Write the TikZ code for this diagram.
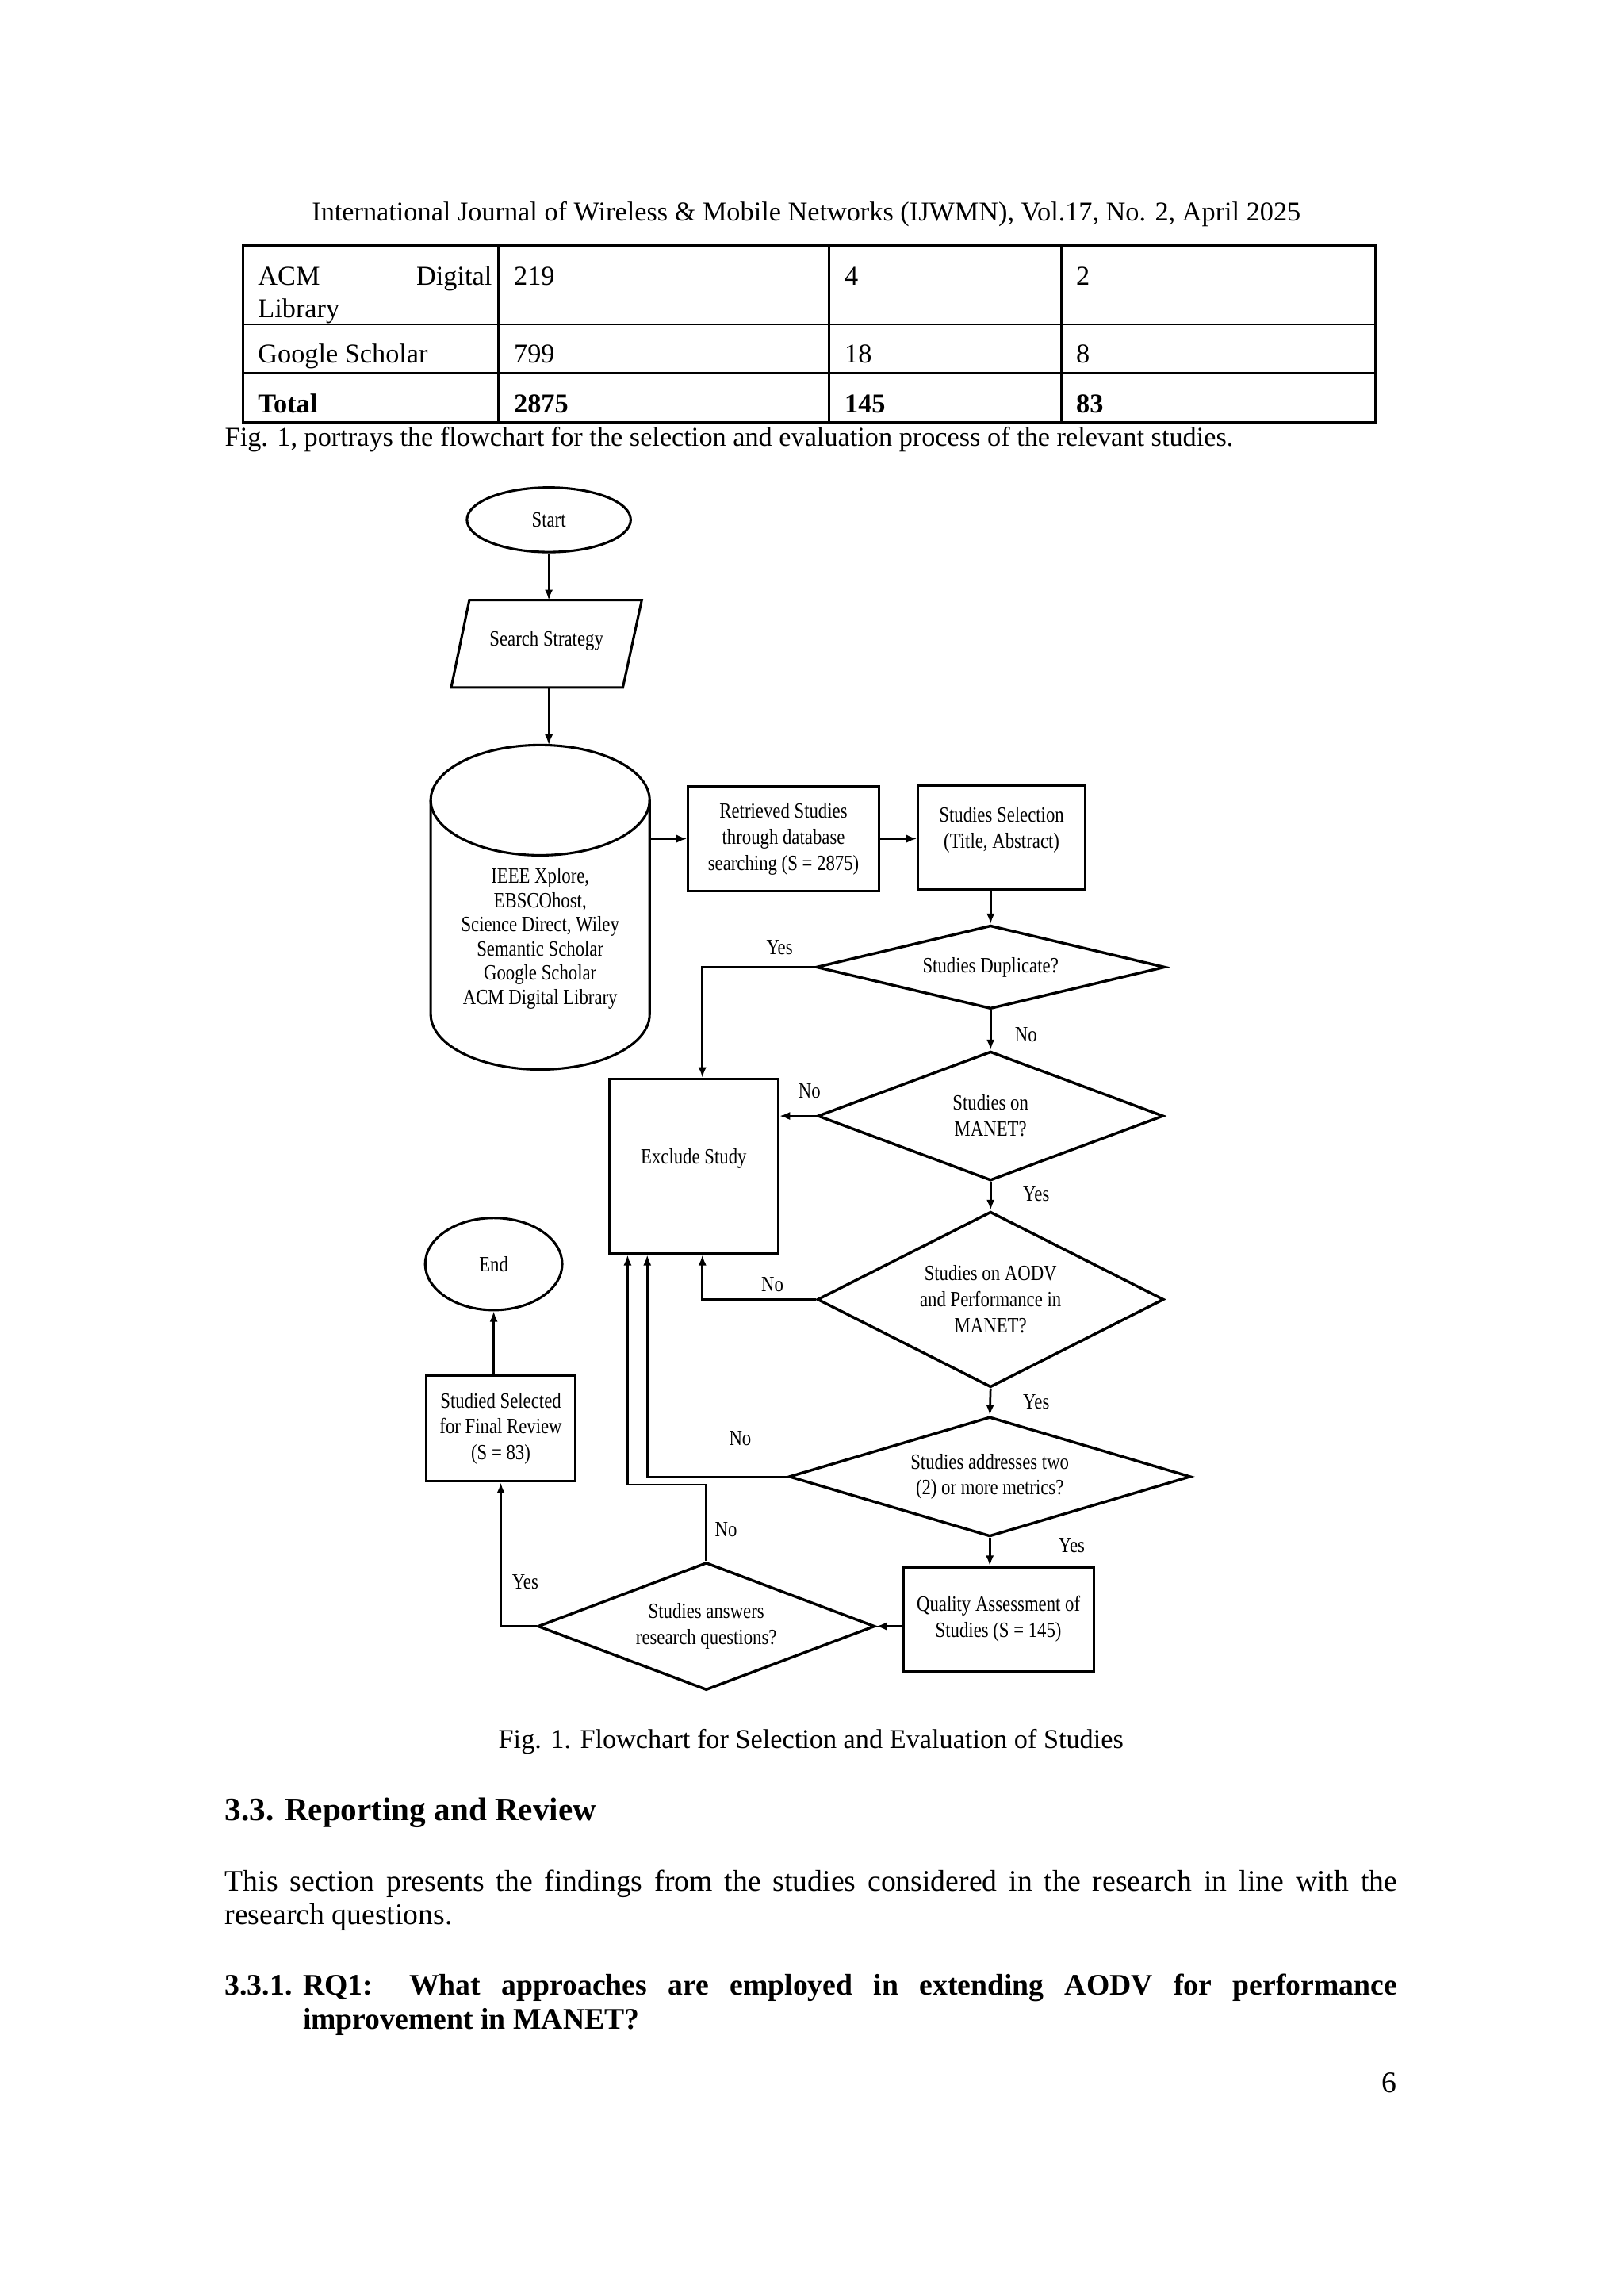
\documentclass[tikz,border=0pt]{standalone}
\usepackage{fontspec}
\setmainfont{Liberation Serif}
\newfontfamily\fcfont[FakeStretch=0.83]{Liberation Serif}
\usetikzlibrary{shapes.geometric,arrows.meta,calc}
\newlength\pxu
\setlength\pxu{0.10182129mm}
\begin{document}
\begin{tikzpicture}[x=0.10182129mm,y=-0.10182129mm,
  fc/.style={font={\fcfont\fontsize{8}{9.6}\selectfont}},
  wh/.style 2 args={minimum width=#1*\pxu, minimum height=#2*\pxu},
  box/.style={draw, line width=0.9pt, rectangle, inner sep=0pt, align=center, fc},
  dia/.style={draw, diamond, line width=1pt, inner sep=0pt, align=center, fc},
  term/.style={draw, ellipse, line width=0.9pt, inner sep=0pt, fc},
  arr/.style={line width=0.8pt, -{Latex[length=1.35mm,width=1.05mm]}},
  lbl/.style={fc, inner sep=0pt},
  shp/.style={line width=0.9pt},
  tline/.style={line width=0.8pt},
  t10/.style={inner sep=0pt, font={\fontsize{10}{11.5}\selectfont}},
  t11/.style={inner sep=0pt, font={\fontsize{11}{12.65}\selectfont}},
  t12b/.style={inner sep=0pt, font={\fontsize{12}{13.8}\selectfont\bfseries}},
  t11b/.style={inner sep=0pt, font={\fontsize{11}{12.65}\selectfont\bfseries}}
]
\fill[white] (0,0) rectangle (2062.44,2915.41);
\useasboundingbox (0,0) rectangle (2062.44,2915.41);

% ---------- header ----------
\node[t10, anchor=base] (hdr) at (1024,280) {International Journal of Wireless \& Mobile Networks (IJWMN), Vol.17, No. 2, April 2025};

% ---------- table ----------
\draw[tline] (309,312) rectangle (1747,536);
\draw[tline] (309,412) -- (1747,412);
\draw[tline] (309,474) -- (1747,474);
\draw[tline] (633,312) -- (633,536);
\draw[tline] (1053,312) -- (1053,536);
\draw[tline] (1348,312) -- (1348,536);
\node[t10, anchor=base west] (c11) at (327,362) {\makebox[30.24mm][s]{ACM Digital}};
\node[t10, anchor=base west] (c11b) at (327,403) {Library};
\node[t10, anchor=base west] (c12) at (652,362) {219};
\node[t10, anchor=base west] (c13) at (1072,362) {4};
\node[t10, anchor=base west] (c14) at (1366,362) {2};
\node[t10, anchor=base west] (c21) at (327,461) {Google Scholar};
\node[t10, anchor=base west] (c22) at (652,461) {799};
\node[t10, anchor=base west] (c23) at (1072,461) {18};
\node[t10, anchor=base west] (c24) at (1366,461) {8};
\node[t10, anchor=base west] (c31) at (327,524) {\textbf{Total}};
\node[t10, anchor=base west] (c32) at (652,524) {\textbf{2875}};
\node[t10, anchor=base west] (c33) at (1072,524) {\textbf{145}};
\node[t10, anchor=base west] (c34) at (1366,524) {\textbf{83}};

\node[t10, anchor=base west] (intro) at (285,566) {Fig. 1, portrays the flowchart for the selection and evaluation process of the relevant studies.};

% ---------- flowchart ----------
\node[term, wh={208}{82}] (start) at (697,660) {Start};

\draw[shp] (596,762) -- (815,762) -- (791,873) -- (573,873) -- cycle;
\node[lbl] (search) at (694,814) {Search Strategy};
\coordinate (sTop) at (697,762);
\coordinate (sBot) at (697,873);

% cylinder
\draw[shp] (686,1016) ellipse [x radius=139, y radius=70];
\draw[shp] (547,1016) -- (547,1288) arc[start angle=180, end angle=0, x radius=139, y radius=70] -- (825,1016);
\coordinate (dbTop) at (697,946);
\coordinate (dbR) at (825,1065);
\node[lbl, align=center, font={\fcfont\fontsize{8}{8.9}\selectfont}] (db) at (686,1192)
  {IEEE Xplore,\\EBSCOhost,\\Science Direct, Wiley\\Semantic Scholar\\Google Scholar\\ACM Digital Library};

\node[box, wh={242}{132}] (ret) at (995,1065) {Retrieved Studies\\through database\\searching (S = 2875)};
\node[box, wh={212}{132}] (sel) at (1272,1063) {Studies Selection\\(Title, Abstract)\rule[-7pt]{0pt}{1pt}};
\node[dia, aspect=4.2, wh={443}{106}] (dup) at (1258,1228) {Studies Duplicate?};
\node[dia, aspect=2.7, wh={439}{164}] (manet) at (1258,1417) {Studies on\\MANET?};
\node[dia, aspect=2, wh={440}{223}] (aodv) at (1258,1650) {Studies on AODV\\and Performance in\\MANET?};
\node[dia, aspect=3.3, wh={510}{152}] (metrics) at (1257,1875) {Studies addresses two\\(2) or more metrics?};
\node[box, wh={242}{132}] (qual) at (1268,2056) {Quality Assessment of\\Studies (S = 145)};
\node[dia, aspect=2.6, wh={428}{162}] (research) at (897,2065) {Studies answers\\research questions?};
\node[box, wh={190}{134}] (fin) at (636,1814) {Studied Selected\\for Final Review\\(S = 83)};
\node[term, wh={174}{117}] (end) at (627,1605) {End};
\node[box, wh={215}{222}] (excl) at (881,1481) {Exclude Study\rule[-7.2pt]{0pt}{1pt}};

% connectors
\draw[arr] (start) -- (sTop);
\draw[arr] (sBot) -- (dbTop);
\draw[arr] (dbR) -- (ret.west |- dbR);
\draw[arr] (ret.east) -- (sel.west |- ret.east);
\draw[arr] (sel.south -| dup.north) -- (dup.north);
\draw[arr] (dup.south) -- (manet.north);
\draw[arr] (manet.south) -- (aodv.north);
\draw[arr] (aodv.south) -- (metrics.north);
\draw[arr] (metrics.south) -- (metrics.south |- qual.north);
\draw[arr] (qual.west |- research.east) -- (research.east);
\draw[arr] (research.west) -| (fin.south);
\draw[arr] (end.south |- fin.north) -- (end.south);
\draw[arr] (dup.west) -| ($(excl.north)+(11,0)$);
\draw[arr] (manet.west) -- (manet.west -| excl.east);
\draw[arr] (aodv.west) -| ($(excl.south)+(11,0)$);
\draw[arr] (metrics.west) -| ($(excl.south)+(-59,0)$);
\draw[arr] (research.north) -- ++(0,-97) -| ($(excl.south)+(-84,0)$);

% labels
\node[lbl] (l1) at (990,1203) {Yes};
\node[lbl] (l2) at (1303,1314) {No};
\node[lbl] (l3) at (1028,1385) {No};
\node[lbl] (l4) at (1316,1516) {Yes};
\node[lbl] (l5) at (981,1631) {No};
\node[lbl] (l6) at (1316,1780) {Yes};
\node[lbl] (l7) at (940,1826) {No};
\node[lbl] (l8) at (1361,1962) {Yes};
\node[lbl] (l9) at (922,1942) {No};
\node[lbl] (l10) at (667,2009) {Yes};

% ---------- text below ----------
\node[t10, anchor=base] (cap) at (1030,2220) {Fig. 1. Flowchart for Selection and Evaluation of Studies};
\node[t12b, anchor=base west] (sec) at (285,2312) {3.3. Reporting and Review};
\node[t11, anchor=base west] (p1) at (285,2401) {\makebox[151.6mm][s]{This section presents the findings from the studies considered in the research in line with the}};
\node[t11, anchor=base west] (p2) at (285,2444) {research questions.};
\node[t11b, anchor=base west] (rqn) at (285,2533) {3.3.1.};
\node[t11b, anchor=base west] (rq1) at (384,2533) {\makebox[141.5mm][s]{RQ1: What approaches are employed in extending AODV for performance}};
\node[t11b, anchor=base west] (rq2) at (384,2577) {improvement in MANET?};
\node[t11, anchor=base east] (pnum) at (1774,2657) {6};
\end{tikzpicture}
\end{document}
